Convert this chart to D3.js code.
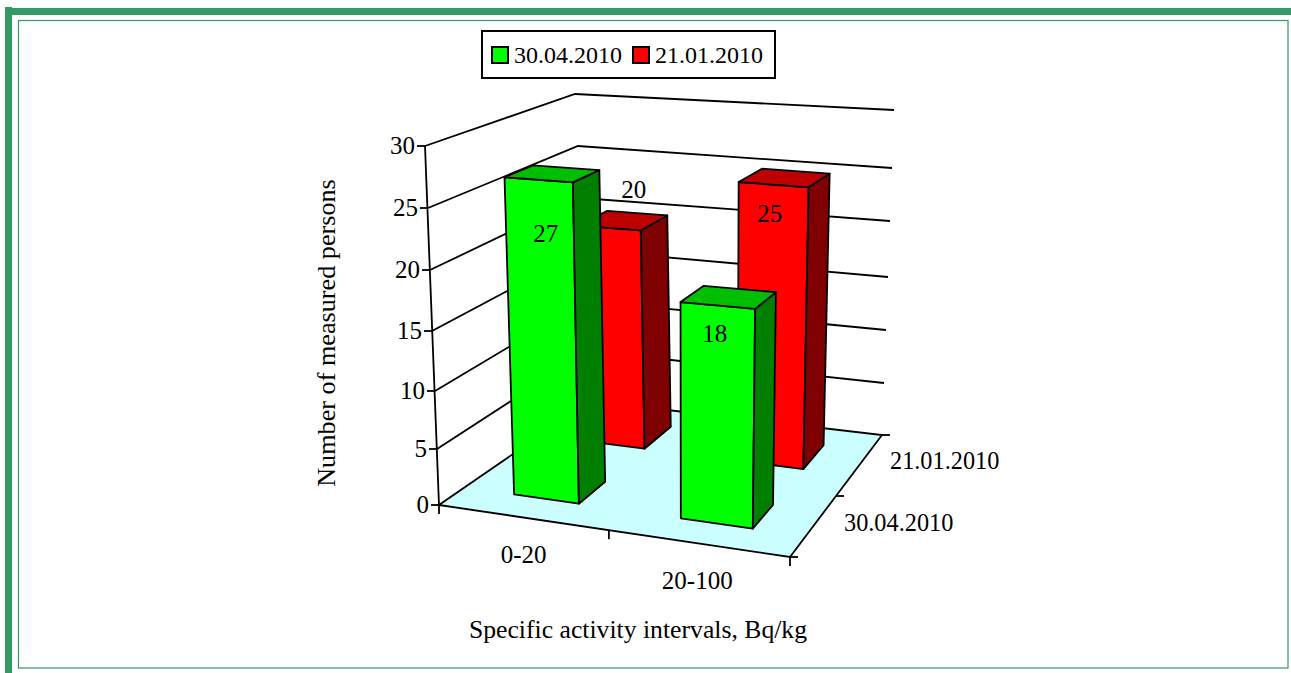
<!DOCTYPE html>
<html><head><meta charset="utf-8">
<script src="https://cdn.jsdelivr.net/npm/d3@7/dist/d3.min.js"></script>
<style>html,body{margin:0;padding:0;background:#fff}svg{display:block}text{font-family:"Liberation Serif",serif;fill:#000}</style>
</head><body><svg id="c" width="1291" height="673"></svg>
<script>
// ---- data ----
const categories = ["0-20", "20-100"];
const seriesNames = ["21.01.2010", "30.04.2010"];      // back to front
const values2010Jan = [20, 25];
const values2010Apr = [27, 18];
const valueTicks = [0, 5, 10, 15, 20, 25, 30];
const legendNames = ["30.04.2010", "21.01.2010"];
const xTitle = "Specific activity intervals, Bq/kg";
const yTitle = "Number of measured persons";

// ---- projection: four vertical box edges, each a pair of scales over the value axis ----
const edge = (xs, ys) => ({x: d3.scaleLinear().domain(valueTicks).range(xs), y: d3.scaleLinear().domain(valueTicks).range(ys)});
const FL = edge([439,437,435,432,430,428,425], [505,449,391,331,270,208,146]);
const FR = edge([790,791,792,793,794,795,797], [557,496,432.5,368,302,238,172]);
const BL = edge([590,588,586,584,581,578,575], [401,351,301,250,198,146,94]);
const BR = edge([882,884,886,888,890,892,894], [435,383,330,277,221,168,110]);
// foreshortening along the category axis (nearer to the right-hand side looks wider)
const uWarp = d3.scaleLinear().domain([0,0.14,0.34,0.5,0.64,0.84,1]).range([0,0.145,0.335,0.484,0.634,0.845,1]);
function project(uRaw, v, w) {
  const u = uWarp(uRaw);
  const corners = [FL, FR, BL, BR].map(e => [e.x(w), e.y(w)]);
  const mix = i => (1-v)*((1-u)*corners[0][i] + u*corners[1][i]) + v*((1-u)*corners[2][i] + u*corners[3][i]);
  return [mix(0), mix(1)];
}
const uBand = d3.scaleBand().domain(categories).range([-0.01, 0.99]).paddingInner(0.6).paddingOuter(0.3);
const vBand = d3.scaleBand().domain(["30.04.2010", "21.01.2010"]).range([0.02, 1.02]).paddingInner(0.6).paddingOuter(0.3);

const svg = d3.select("#c");
const GREEN = "#339966";
// frame
svg.append("rect").attr("x",5).attr("y",7).attr("width",7).attr("height",666).attr("fill",GREEN);
svg.append("rect").attr("x",5).attr("y",8).attr("width",1286).attr("height",7).attr("fill",GREEN);
svg.append("rect").attr("x",18.5).attr("y",20.5).attr("width",1269.5).attr("height",647.5).attr("fill","none").attr("stroke",GREEN).attr("stroke-width",1.2);

const line = pts => "M" + pts.map(p => p.join(",")).join("L") + "Z";
const open = pts => "M" + pts.map(p => p.join(",")).join("L");
const SW = 1.8;

// floor
svg.append("path").attr("d", line([project(0,0,0),project(1,0,0),project(1,1,0),project(0,1,0)]))
  .attr("fill","#CCFFFF").attr("stroke","#000").attr("stroke-width",SW);

// grid lines on the walls
svg.append("g").selectAll("path").data(valueTicks.slice(1)).join("path")
  .attr("d", t => open([project(0,0,t),project(0,1,t),project(1,1,t)]))
  .attr("fill","none").attr("stroke","#000").attr("stroke-width",SW);
// value axis + ticks
svg.append("path").attr("d", open([project(0,0,0),project(0,0,30)])).attr("fill","none").attr("stroke","#000").attr("stroke-width",SW);
const yt = svg.append("g").selectAll("g").data(valueTicks).join("g");
yt.append("line").attr("x1",t=>project(0,0,t)[0]-8).attr("x2",t=>project(0,0,t)[0])
  .attr("y1",t=>project(0,0,t)[1]).attr("y2",t=>project(0,0,t)[1]).attr("stroke","#000").attr("stroke-width",SW);
yt.append("text").attr("x",t=>project(0,0,t)[0]-10).attr("y",t=>project(0,0,t)[1]+8).attr("text-anchor","end")
  .attr("font-size",25).text(t=>t);

// category axis ticks and labels
[0,0.5,1].forEach(u=>{const p=project(u,0,0);
  svg.append("line").attr("x1",p[0]).attr("x2",p[0]).attr("y1",p[1]).attr("y2",p[1]+9).attr("stroke","#000").attr("stroke-width",SW);});
svg.append("g").selectAll("text").data(categories).join("text")
  .attr("x",c=>project(uBand(c)+uBand.bandwidth()/2+0.01,0,0)[0]+(c==="0-20"?-3:-5))
  .attr("y",c=>project(uBand(c)+uBand.bandwidth()/2+0.01,0,0)[1]+45)
  .attr("text-anchor","middle").attr("font-size",25).text(c=>c);
// depth axis ticks and labels
[0,0.5,1].forEach(v=>{const p=project(1,v,0);
  svg.append("line").attr("x1",p[0]).attr("x2",p[0]+8).attr("y1",p[1]).attr("y2",p[1]).attr("stroke","#000").attr("stroke-width",SW);});
svg.append("g").selectAll("text").data(legendNames).join("text")
  .attr("x",s=>project(1,vBand(s)+vBand.bandwidth()/2-0.02,0)[0]+31)
  .attr("y",s=>project(1,vBand(s)+vBand.bandwidth()/2-0.02,0)[1]+(s==="21.01.2010"?3:4))
  .attr("font-size",24.3).text(s=>s);

// bars
function bar(cat, series, val, front, side, top){
  const u0=uBand(cat),u1=u0+uBand.bandwidth(),v0=vBand(series),v1=v0+vBand.bandwidth();
  const g=svg.append("g").attr("stroke","#000").attr("stroke-width",SW).attr("stroke-linejoin","round");
  g.append("path").attr("fill",front).attr("d",line([project(u0,v0,0),project(u1,v0,0),project(u1,v0,val),project(u0,v0,val)]));
  g.append("path").attr("fill",side).attr("d",line([project(u1,v0,0),project(u1,v1,0),project(u1,v1,val),project(u1,v0,val)]));
  g.append("path").attr("fill",top).attr("d",line([project(u0,v0,val),project(u1,v0,val),project(u1,v1,val),project(u0,v1,val)]));
}
categories.forEach((c,i)=>bar(c,"21.01.2010",values2010Jan[i],"#FF0000","#7F0000","#BF0000"));
categories.forEach((c,i)=>bar(c,"30.04.2010",values2010Apr[i],"#00FF00","#007F00","#00BF00"));

// value labels: placed relative to the bar top, with the offsets the original uses
const labelShift = {"21.01.2010":[[24,-38],[-4,29]], "30.04.2010":[[7,54],[-3,28]]};
function valueLabel(cat,series,val,i){
  const p=project(uBand(cat)+uBand.bandwidth()/2,vBand(series),val), s=labelShift[series][i];
  svg.append("text").attr("x",p[0]+s[0]).attr("y",p[1]+s[1]+8).attr("text-anchor","middle").attr("font-size",25).text(val);
}
categories.forEach((c,i)=>{valueLabel(c,"21.01.2010",values2010Jan[i],i);valueLabel(c,"30.04.2010",values2010Apr[i],i);});

// axis titles
svg.append("text").attr("x",638).attr("y",638).attr("text-anchor","middle").attr("font-size",25.7).text(xTitle);
svg.append("text").attr("transform","translate(335,333) rotate(-90)").attr("text-anchor","middle").attr("font-size",26.2).text(yTitle);

// legend
svg.append("rect").attr("x",482).attr("y",31).attr("width",293).attr("height",47).attr("fill","#fff").attr("stroke","#000").attr("stroke-width",2);
const legendX=[492,633], legendColor=["#00FF00","#FF0000"];
legendNames.forEach((n,i)=>{
  svg.append("rect").attr("x",legendX[i]).attr("y",47).attr("width",16).attr("height",16).attr("fill",legendColor[i]).attr("stroke","#000").attr("stroke-width",2);
  svg.append("text").attr("x",legendX[i]+22).attr("y",63).attr("font-size",24).text(n);
});
</script></body></html>
